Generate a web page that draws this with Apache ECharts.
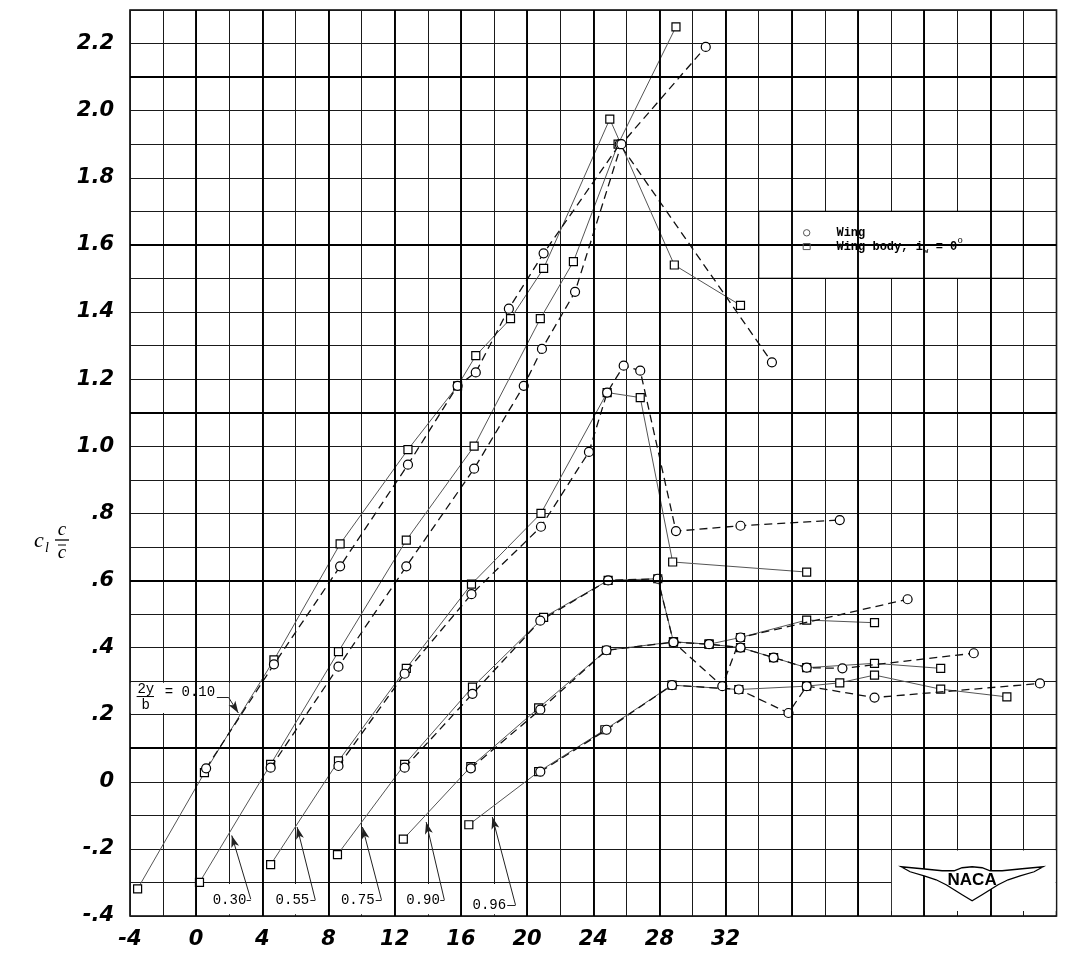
<!DOCTYPE html>
<html><head><meta charset="utf-8"><title>Spanwise section lift</title>
<script src="https://cdn.jsdelivr.net/npm/echarts/dist/echarts.min.js"></script>
<style>html,body{margin:0;padding:0;background:#fff}#c{width:1089px;height:959px}</style>
</head><body><div id="c"></div>
<script>
// ---- tick labels ----
const xTickValues = [-4, 0, 4, 8, 12, 16, 20, 24, 28, 32];
const xTickLabels = ['-4', '0', '4', '8', '12', '16', '20', '24', '28', '32'];
const yTickValues = [-0.4, -0.2, 0, 0.2, 0.4, 0.6, 0.8, 1.0, 1.2, 1.4, 1.6, 1.8, 2.0, 2.2];
const yTickLabels = ['-.4', '-.2', '0', '.2', '.4', '.6', '.8', '1.0', '1.2', '1.4', '1.6', '1.8', '2.0', '2.2'];

// ---- stations (2y/b), curves plotted with the picture's 4-deg stagger ----
const stations = ['0.10', '0.30', '0.55', '0.75', '0.90', '0.96'];

// Wing (circles)
const wing_010 = [[0.6,0.04],[4.7,0.35],[8.7,0.642],[12.8,0.945],[15.8,1.18],[16.9,1.22],[18.9,1.41],[21.0,1.575],[25.6,1.90],[34.8,1.25]];
const wing_030 = [[4.5,0.042],[8.6,0.343],[12.7,0.642],[16.8,0.933],[19.8,1.18],[20.9,1.29],[22.9,1.46],[25.7,1.90],[30.8,2.19]];
const wing_055 = [[8.6,0.047],[12.6,0.322],[16.64,0.559],[20.84,0.76],[23.74,0.983],[24.84,1.16],[25.84,1.24],[26.84,1.225],[29.0,0.747],[32.9,0.763],[38.9,0.78]];
const wing_075 = [[12.6,0.042],[16.7,0.262],[20.8,0.48],[24.9,0.60],[27.9,0.605],[28.85,0.416],[31.8,0.285],[32.9,0.43],[43.0,0.544]];
const wing_090 = [[16.6,0.04],[20.8,0.215],[24.8,0.392],[28.85,0.416],[31.0,0.41],[32.9,0.40],[34.9,0.37],[36.9,0.34],[39.06,0.338],[47.0,0.383]];
const wing_096 = [[20.8,0.03],[24.8,0.155],[28.76,0.288],[32.8,0.275],[35.8,0.205],[36.9,0.285],[41.0,0.251],[51.0,0.293]];

// Wing body, i_w = 0 deg (squares)
const body_010 = [[-3.54,-0.319],[0.5,0.027],[4.7,0.363],[8.7,0.709],[12.8,0.99],[15.8,1.18],[16.9,1.27],[19.0,1.38],[21.0,1.53],[25.0,1.975],[28.9,1.54],[32.9,1.42]];
const body_030 = [[0.2,-0.30],[4.5,0.052],[8.6,0.388],[12.7,0.72],[16.8,1.0],[20.8,1.38],[22.8,1.55],[25.5,1.90],[29.0,2.25]];
const body_055 = [[4.5,-0.247],[8.6,0.062],[12.7,0.338],[16.64,0.589],[20.84,0.80],[24.84,1.16],[26.84,1.145],[28.8,0.655],[36.9,0.625]];
const body_075 = [[8.54,-0.217],[12.6,0.052],[16.7,0.282],[21.0,0.49],[24.9,0.60],[27.9,0.605],[28.85,0.417],[31.0,0.41],[32.9,0.43],[36.9,0.482],[41.0,0.474]];
const body_090 = [[12.52,-0.171],[16.6,0.045],[20.7,0.22],[24.8,0.392],[28.85,0.417],[31.0,0.41],[32.9,0.40],[34.9,0.37],[36.9,0.34],[41.0,0.353],[45.0,0.338]];
const body_096 = [[16.48,-0.128],[20.7,0.03],[24.7,0.155],[28.76,0.288],[32.8,0.275],[36.9,0.285],[38.9,0.295],[41.0,0.318],[45.0,0.276],[49.0,0.253]];

const wingSets = [wing_010, wing_030, wing_055, wing_075, wing_090, wing_096];
const bodySets = [body_010, body_030, body_055, body_075, body_090, body_096];

// ---- annotation layout (label placement, data units) ----
const stationLabelPos = [[1.0,-0.352],[4.8,-0.352],[8.75,-0.352],[12.7,-0.352],[16.7,-0.367]];
const stationLeaders = [
  [[3.3,-0.35],[2.15,-0.16]],
  [[7.2,-0.352],[6.1,-0.135]],
  [[11.2,-0.352],[10.05,-0.135]],
  [[15.0,-0.352],[13.9,-0.12]],
  [[19.3,-0.367],[17.9,-0.105]]
];
const stationStubs = [
  [[3.05,-0.352],[3.3,-0.352]],
  [[6.9,-0.352],[7.2,-0.352]],
  [[10.85,-0.352],[11.2,-0.352]],
  [[14.75,-0.352],[15.0,-0.352]],
  [[18.8,-0.367],[19.3,-0.367]]
];
const whiteBoxes = [
  [[-3.95,0.205],[2.0,0.295]],
  [[0.15,-0.395],[3.85,-0.305]],
  [[4.15,-0.395],[7.85,-0.305]],
  [[8.15,-0.395],[11.85,-0.305]],
  [[12.15,-0.395],[15.85,-0.305]],
  [[16.15,-0.395],[19.85,-0.305]],
  [[42.05,-0.385],[51.95,-0.205]]
];
const legendBox = [[34,1.5],[50,1.7]];

const chart = echarts.init(document.getElementById('c'), null, {renderer: 'canvas'});

const tickFont = {fontFamily: 'DejaVu Sans', fontWeight: 'bold', fontStyle: 'italic', fontSize: 21, color: '#000'};

const series = [];

// heavy grid lines
const heavyX = [];
for (let v = 0; v <= 48; v += 4) heavyX.push({xAxis: v});
const heavyY = [0.1, 0.6, 1.1, 1.6, 2.1].map(v => ({yAxis: v}));
series.push({
  type: 'line', data: [], z: 1, silent: true,
  markLine: {silent: true, symbol: ['none', 'none'], label: {show: false},
    lineStyle: {color: '#000', width: 1.9, type: 'solid'},
    emphasis: {disabled: true}, animation: false,
    data: heavyX.concat(heavyY)}
});

// white boxes
const boxData = whiteBoxes.map(b => [{coord: b[0], itemStyle: {color: '#fff', borderWidth: 0}}, {coord: b[1]}]);
boxData.push([{coord: legendBox[0], itemStyle: {color: '#fff', borderColor: '#000', borderWidth: 1.2}}, {coord: legendBox[1]}]);
series.push({
  type: 'line', data: [], z: 1.5, silent: true,
  markArea: {silent: true, label: {show: false}, emphasis: {disabled: true}, animation: false,
    itemStyle: {color: '#fff', opacity: 1}, data: boxData}
});

// curves
stations.forEach((st, i) => {
  series.push({
    type: 'line', name: 'Wing body ' + st, data: bodySets[i], z: 3, silent: true,
    symbol: 'rect', symbolSize: 8, showSymbol: true,
    itemStyle: {color: '#fff', borderColor: '#000', borderWidth: 1.2},
    lineStyle: {color: '#555', width: 1, type: 'solid'}
  });
  series.push({
    type: 'line', name: 'Wing ' + st, data: wingSets[i], z: 3.2, silent: true,
    symbol: 'circle', symbolSize: 9, showSymbol: true,
    itemStyle: {color: '#fff', borderColor: '#000', borderWidth: 1.2},
    lineStyle: {color: '#111', width: 1.3, type: [8, 5]}
  });
});

// leader lines
const leaderData = [];
stationLeaders.forEach(l => leaderData.push([{coord: l[0], symbol: 'none'}, {coord: l[1], symbol: 'arrow', symbolSize: [6, 12]}]));
stationStubs.forEach(l => leaderData.push([{coord: l[0], symbol: 'none'}, {coord: l[1], symbol: 'none'}]));
leaderData.push([{coord: [1.25, 0.252], symbol: 'none'}, {coord: [1.95, 0.252], symbol: 'none'}]);
leaderData.push([{coord: [1.95, 0.252], symbol: 'none'}, {coord: [2.55, 0.205], symbol: 'arrow', symbolSize: [6, 12]}]);
series.push({
  type: 'line', data: [], z: 4, silent: true,
  markLine: {silent: true, label: {show: false}, emphasis: {disabled: true}, animation: false,
    lineStyle: {color: '#222', width: 1, type: 'solid'}, data: leaderData}
});

chart.setOption({
  animation: false,
  backgroundColor: '#fff',
  grid: {left: 130, right: 32.5, top: 10, bottom: 43, show: true, borderColor: '#000', borderWidth: 1.6, backgroundColor: 'transparent'},
  xAxis: {
    type: 'value', min: -4, max: 52, interval: 2,
    axisLine: {show: false}, axisTick: {show: false},
    splitLine: {show: true, lineStyle: {color: '#1a1a1a', width: 1}},
    axisLabel: Object.assign({}, tickFont, {margin: 13, showMinLabel: true,
      formatter: v => { const k = xTickValues.findIndex(t => Math.abs(t - v) < 1e-6); return k < 0 ? '' : xTickLabels[k]; }})
  },
  yAxis: {
    type: 'value', min: -0.4, max: 2.3, interval: 0.1,
    axisLine: {show: false}, axisTick: {show: false},
    splitLine: {show: true, lineStyle: {color: '#1a1a1a', width: 1}},
    axisLabel: Object.assign({}, tickFont, {margin: 16,
      formatter: v => { const k = yTickValues.findIndex(t => Math.abs(t - v) < 1e-6); return k < 0 ? '' : yTickLabels[k]; }})
  },
  series: series
});

// ---- text annotations placed through the axes' scales ----
const P = (x, y) => chart.convertToPixel({xAxisIndex: 0, yAxisIndex: 0}, [x, y]);
const mono = (size, bold) => (bold ? 'bold ' : '') + size + 'px "Liberation Mono", "DejaVu Sans Mono", monospace';
function txt(p, text, font, align, dx, dy) {
  return {type: 'text', z: 10, silent: true, x: p[0] + (dx || 0), y: p[1] + (dy || 0),
    style: {text: text, font: font, fill: '#000', textAlign: align || 'left', align: align || 'left',
      textVerticalAlign: 'middle', verticalAlign: 'middle'}};
}
const g = [];
// station labels
stations.slice(1).forEach((st, i) => g.push(txt(P(stationLabelPos[i][0], stationLabelPos[i][1]), st, mono(14), 'left')));
// 2y/b = 0.10
const f1 = P(-3.55, 0.277), fb = P(-3.6, 0.254), fe = P(-2.55, 0.254), f2 = P(-3.05, 0.229);
g.push(txt(f1, '2y', mono(14), 'left'));
g.push({type: 'line', z: 10, silent: true, shape: {x1: fb[0], y1: fb[1], x2: fe[0], y2: fe[1]}, style: {stroke: '#000', lineWidth: 1}});
g.push(txt(f2, 'b', mono(14), 'center'));
g.push(txt(P(-1.9, 0.266), '= 0.10', mono(14), 'left'));
// legend
const l1 = P(36.9, 1.636), l2 = P(36.9, 1.595);
g.push({type: 'circle', z: 10, silent: true, shape: {cx: l1[0], cy: l1[1], r: 3.2}, style: {fill: 'none', stroke: '#555', lineWidth: 1}});
g.push({type: 'rect', z: 10, silent: true, shape: {x: l2[0] - 3.5, y: l2[1] - 3, width: 7, height: 6}, style: {fill: 'none', stroke: '#555', lineWidth: 1}});
const t1 = P(38.7, 1.636), t2 = P(38.7, 1.595);
g.push(txt(t1, 'Wing', mono(12, true), 'left'));
g.push(txt(t2, 'Wing body, i', mono(12, true), 'left'));
g.push(txt(t2, 'w', mono(8, true), 'left', 87, 4));
g.push(txt(t2, ' = 0', mono(12, true), 'left', 92, 0));
g.push(txt(t2, 'o', mono(9, false), 'left', 121, -6));
// y-axis title c_l c / c-bar
const serif = (s) => 'italic ' + s + 'px "Liberation Serif", "DejaVu Serif", serif';
g.push({type: 'text', z: 10, silent: true, x: 34, y: 541, style: {text: 'c', font: serif(22), fill: '#000', textAlign: 'left', align: 'left', textVerticalAlign: 'middle', verticalAlign: 'middle'}});
g.push({type: 'text', z: 10, silent: true, x: 45, y: 548, style: {text: 'l', font: serif(14), fill: '#000', textAlign: 'left', align: 'left', textVerticalAlign: 'middle', verticalAlign: 'middle'}});
g.push({type: 'text', z: 10, silent: true, x: 62, y: 530, style: {text: 'c', font: serif(19), fill: '#000', textAlign: 'center', align: 'center', textVerticalAlign: 'middle', verticalAlign: 'middle'}});
g.push({type: 'line', z: 10, silent: true, shape: {x1: 55, y1: 540, x2: 69, y2: 540}, style: {stroke: '#000', lineWidth: 1.3}});
g.push({type: 'line', z: 10, silent: true, shape: {x1: 58, y1: 545, x2: 66, y2: 545}, style: {stroke: '#000', lineWidth: 1}});
g.push({type: 'text', z: 10, silent: true, x: 62, y: 553, style: {text: 'c', font: serif(19), fill: '#000', textAlign: 'center', align: 'center', textVerticalAlign: 'middle', verticalAlign: 'middle'}});
// NACA logo
const c = P(46.9, -0.292);
const wingPts = [[-71,-13],[-50,-11],[-30,-9],[-18,-9],[-10,-12],[0,-13],[10,-12],[18,-9],[30,-9],[50,-11],[71,-13],
  [62,-8],[48,-4],[36,0],[26,5],[18,10],[10,15],[0,21],[-10,15],[-18,10],[-26,5],[-36,0],[-48,-4],[-62,-8]];
g.push({type: 'polygon', z: 10, silent: true, shape: {points: wingPts.map(q => [c[0] + q[0], c[1] + q[1]])}, style: {fill: '#fff', stroke: '#000', lineWidth: 1.3}});
g.push({type: 'text', z: 11, silent: true, x: c[0], y: c[1] + 1, style: {text: 'NACA', font: 'bold 17px "Liberation Sans", Arial, sans-serif', fill: '#000', textAlign: 'center', align: 'center', textVerticalAlign: 'middle', verticalAlign: 'middle'}});

chart.setOption({graphic: {elements: g}});
</script>
</body></html>
